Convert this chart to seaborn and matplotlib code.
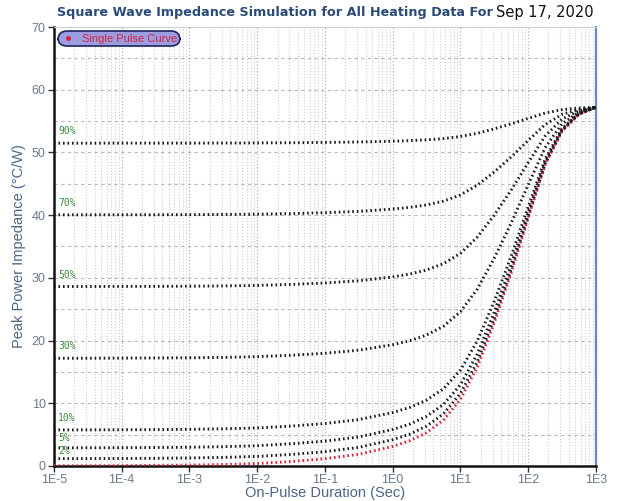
import numpy as np
import pandas as pd
import matplotlib
matplotlib.use('Agg')
import matplotlib.pyplot as plt
import seaborn as sns
from matplotlib.lines import Line2D
from matplotlib.ticker import FixedLocator, LogLocator, NullFormatter

duration = [1e-5, 3.16e-5, 1e-4, 3.16e-4, 1e-3, 3.16e-3, 1e-2, 3.16e-2, 1e-1, 3.16e-1,
            1.0, 1.78, 3.16, 5.62, 10.0, 17.8, 31.6, 56.2, 100.0, 178.0, 316.0, 562.0, 1000.0]

# Single pulse curve (red)
single_pulse = [0.02, 0.03, 0.05, 0.08, 0.13, 0.22, 0.38, 0.7, 1.15, 1.85,
                3.1, 4.0, 5.3, 7.3, 10.6, 15.8, 22.8, 30.8, 39.5, 48.0, 53.4, 56.1, 57.2]

# Duty cycle curves (black)
duty_2 = [1.16, 1.17, 1.19, 1.22, 1.27, 1.36, 1.52, 1.83, 2.27, 2.96,
          4.18, 5.06, 6.34, 8.30, 11.53, 16.63, 23.49, 31.33, 39.86, 48.18, 53.48, 56.12, 57.2]
duty_5 = [2.88, 2.89, 2.91, 2.94, 2.98, 3.07, 3.22, 3.53, 3.95, 4.62,
          5.81, 6.66, 7.90, 9.80, 12.93, 17.87, 24.52, 32.12, 40.39, 48.46, 53.59, 56.16, 57.2]
duty_10 = [5.74, 5.75, 5.77, 5.79, 5.84, 5.92, 6.06, 6.35, 6.76, 7.39,
           8.51, 9.32, 10.49, 12.29, 15.26, 19.94, 26.24, 33.44, 41.27, 48.92, 53.78, 56.21, 57.2]
duty_30 = [17.17, 17.18, 17.20, 17.22, 17.25, 17.31, 17.43, 17.65, 17.97, 18.46,
           19.33, 19.96, 20.87, 22.27, 24.58, 28.22, 33.12, 38.72, 44.81, 50.76, 54.54, 56.43, 57.2]
duty_50 = [28.61, 28.62, 28.63, 28.64, 28.67, 28.71, 28.79, 28.95, 29.18, 29.53,
           30.15, 30.6, 31.25, 32.25, 33.9, 36.5, 40.0, 44.0, 48.35, 52.6, 55.3, 56.65, 57.2]
duty_70 = [40.05, 40.05, 40.06, 40.06, 40.08, 40.11, 40.15, 40.25, 40.39, 40.6,
           40.97, 41.24, 41.63, 42.23, 43.22, 44.78, 46.88, 49.28, 51.89, 54.44, 56.06, 56.87, 57.2]
duty_90 = [51.48, 51.48, 51.49, 51.49, 51.49, 51.50, 51.52, 51.55, 51.60, 51.67,
           51.79, 51.88, 52.01, 52.21, 52.54, 53.06, 53.76, 54.56, 55.43, 56.28, 56.82, 57.09, 57.2]

duty_labels = ['2%', '5%', '10%', '30%', '50%', '70%', '90%']
duty_curves = [duty_2, duty_5, duty_10, duty_30, duty_50, duty_70, duty_90]

x_ticks = [1e-5, 1e-4, 1e-3, 1e-2, 1e-1, 1e0, 1e1, 1e2, 1e3]
x_tick_labels = ['1E-5', '1E-4', '1E-3', '1E-2', '1E-1', '1E0', '1E1', '1E2', '1E3']
y_ticks = [0, 10, 20, 30, 40, 50, 60, 70]

sns.set_style('white')
plt.rcParams['font.family'] = ['Liberation Sans', 'DejaVu Sans']

fig = plt.figure(figsize=(6.2, 5.01), dpi=100)
ax = fig.add_axes([0.087, 0.070, 0.874, 0.876])

dots = (0, (0.55, 1.0))
sns.lineplot(x=duration, y=single_pulse, ax=ax, color='#d8203a', lw=2.1,
             linestyle=dots, sort=False, estimator=None, zorder=3)
for curve in duty_curves:
    sns.lineplot(x=duration, y=curve, ax=ax, color='#1a1a1a', lw=2.1,
                 linestyle=dots, sort=False, estimator=None, zorder=4)

# percent labels at the left end of each curve
offsets = {'2%': 0.5, '5%': 0.8, '10%': 1.1}
for lab, curve in zip(duty_labels, duty_curves):
    ax.text(1.15e-5, curve[0] + offsets.get(lab, 1.1), lab, color='#3c8c3c',
            fontsize=7, family='DejaVu Sans Mono', va='bottom', ha='left', zorder=5)

ax.set_xscale('log')
ax.set_xlim(1e-5, 1e3)
ax.set_ylim(0, 70)
ax.xaxis.set_major_locator(FixedLocator(x_ticks))
ax.set_xticklabels(x_tick_labels)
ax.xaxis.set_minor_locator(LogLocator(base=10, subs=np.arange(2, 10), numticks=100))
ax.xaxis.set_minor_formatter(NullFormatter())
ax.set_yticks(y_ticks)
ax.set_yticks(np.arange(5, 70, 10), minor=True)

ax.grid(True, which='major', axis='x', color='#b4b4b4', ls=':', lw=0.9)
ax.grid(True, which='minor', axis='x', color='#cdcdcd', ls=':', lw=0.8)
ax.grid(True, which='both', axis='y', color='#b8b8b8', ls=(0, (3, 3)), lw=0.8)

ax.tick_params(axis='both', which='major', labelsize=9, labelcolor='#6a7a8c',
               length=4, width=1, color='#333333', direction='out', pad=2,
               bottom=True, left=True)
ax.tick_params(axis='both', which='minor', length=0)

for side in ['left', 'bottom']:
    ax.spines[side].set_color('#111111')
    ax.spines[side].set_linewidth(1.8)
ax.spines['right'].set_color('#6688bb')
ax.spines['right'].set_linewidth(1.6)
ax.spines['top'].set_color('#c8d0dc')
ax.spines['top'].set_linewidth(0.8)

ax.set_xlabel('On-Pulse Duration (Sec)', fontsize=10.5, color='#4a6688', labelpad=0)
ax.set_ylabel('Peak Power Impedance (\u00b0C/W)', fontsize=10.5, color='#4a6688', labelpad=4)

handle = Line2D([], [], color='#d8203a', marker='o', markersize=2.5, lw=0)
leg = ax.legend(handles=[handle], labels=['Single Pulse Curve'], loc='upper left',
                bbox_to_anchor=(0.008, 0.99), fontsize=8, frameon=True, fancybox=True,
                borderpad=0.1, handlelength=1.4, handletextpad=0.5, borderaxespad=0.1)
leg.get_frame().set_facecolor('#9c9ce0')
leg.get_frame().set_edgecolor('#1e2460')
leg.get_frame().set_linewidth(1.2)
leg.get_frame().set_alpha(1)
leg.get_frame().set_boxstyle('round,pad=0.15,rounding_size=0.8')
for t in leg.get_texts():
    t.set_color('#d8203a')

fig.text(0.092, 0.976, 'Square Wave Impedance Simulation for All Heating Data For',
         fontsize=9.2, fontweight='bold', family='DejaVu Sans', color='#2a4a78',
         va='center', ha='left')
fig.text(0.957, 0.976, 'Sep 17, 2020', fontsize=10.5, family='DejaVu Sans',
         color='#111111', va='center', ha='right')

fig.savefig('out.png', dpi=100)
